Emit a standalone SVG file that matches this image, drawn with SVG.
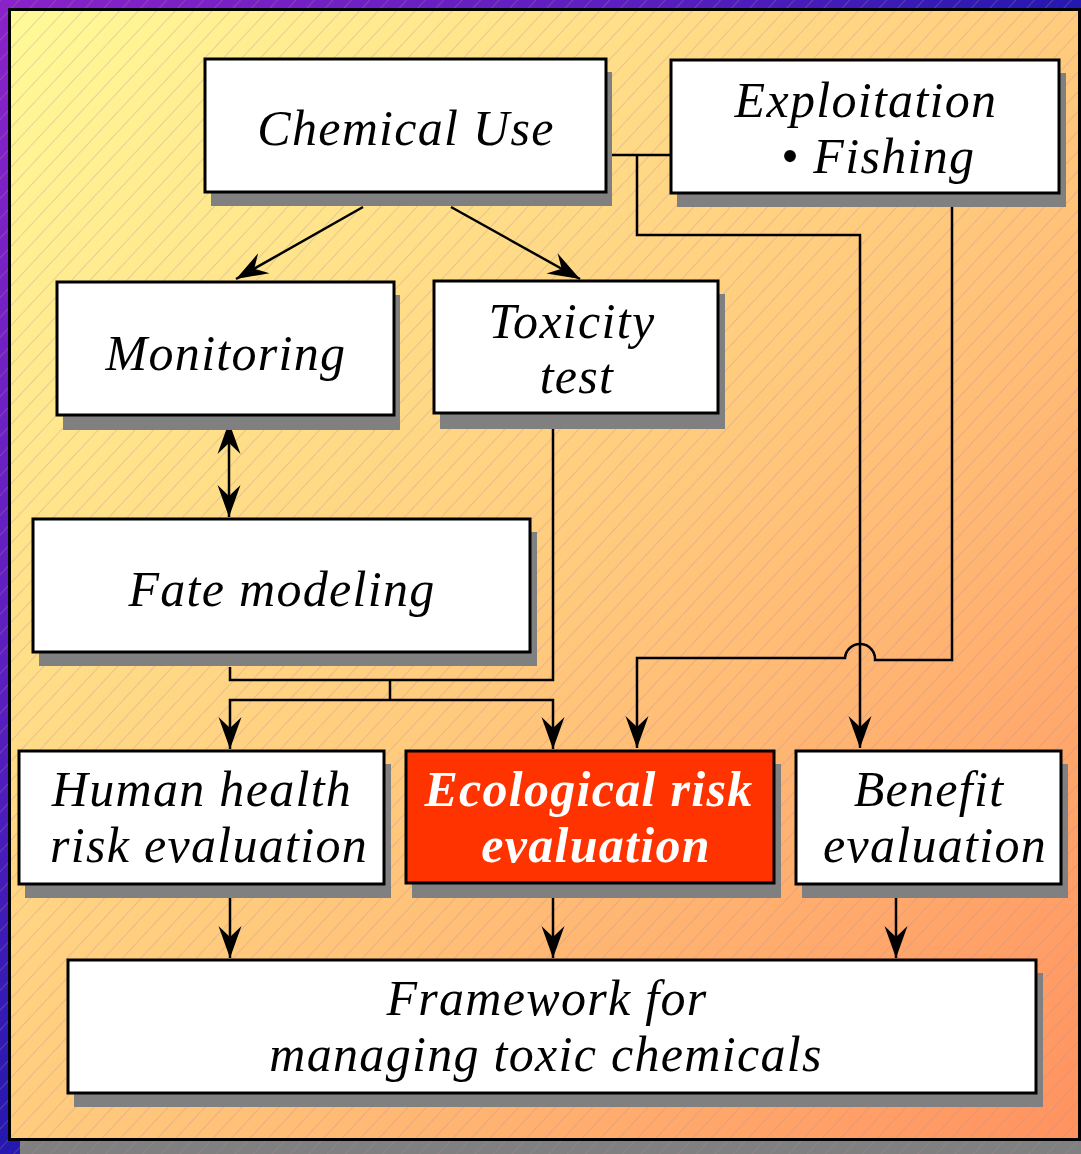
<svg xmlns="http://www.w3.org/2000/svg" width="1081" height="1154" viewBox="0 0 1081 1154">
  <defs>
    <linearGradient id="outerBg" x1="0" y1="0" x2="1" y2="1">
      <stop offset="0" stop-color="#8a22c8"/>
      <stop offset="0.3" stop-color="#5a1ec0"/>
      <stop offset="0.5" stop-color="#2418b0"/>
      <stop offset="1" stop-color="#1414a4"/>
    </linearGradient>
    <linearGradient id="panelBg" x1="0" y1="0" x2="1" y2="1">
      <stop offset="0" stop-color="#fffa98"/>
      <stop offset="0.5" stop-color="#ffcc7e"/>
      <stop offset="1" stop-color="#ff9260"/>
    </linearGradient>
    <pattern id="hatch" patternUnits="userSpaceOnUse" width="13.5" height="13.5" patternTransform="rotate(-47)">
      <line x1="0" y1="0.5" x2="13.5" y2="0.5" stroke="#b08ca0" stroke-opacity="0.32" stroke-width="1"/>
    </pattern>
    <marker id="arrow" viewBox="-34 -13 35 26" refX="0" refY="0" markerWidth="35" markerHeight="26" markerUnits="userSpaceOnUse" orient="auto-start-reverse">
      <path d="M0,0 L-32,-11.5 L-21,0 L-32,11.5 Z" fill="#000"/>
    </marker>
  </defs>
  <style>
    .shadow { fill: #808080; }
    .box { fill: #ffffff; stroke: #000; stroke-width: 3; }
    .hot { fill: #ff3300; stroke: #000; stroke-width: 3; }
    .label { font-family: "Liberation Serif", "Times New Roman", serif; font-style: italic; font-size: 50px; letter-spacing: 1.3px; fill: #000; text-anchor: middle; }
    .hotlabel { fill: #ffffff; font-weight: bold; }
    .wire { fill: none; stroke: #000; stroke-width: 2.5; }
    .arrowed { marker-end: url(#arrow); }
  </style>

  <!-- backdrop and framed panel -->
  <rect x="0" y="0" width="1081" height="1154" fill="url(#outerBg)"/>
  <rect x="20" y="20" width="1070" height="1140" fill="#808080"/>
  <rect x="9.5" y="9.5" width="1070" height="1130" fill="url(#panelBg)"/>
  <rect x="0" y="0" width="1081" height="1154" fill="url(#hatch)"/>
  <rect x="9.5" y="9.5" width="1070" height="1130" fill="none" stroke="#000" stroke-width="3"/>

  <!-- connectors -->
  <g id="connectors">
    <path class="wire arrowed" d="M363,207 L236,279"/>
    <path class="wire arrowed" d="M451,207 L580,279"/>
    <path class="wire" d="M229,422 L229,517" marker-start="url(#arrow)" marker-end="url(#arrow)"/>
    <path class="wire" d="M612,155 H671"/>
    <path class="wire arrowed" d="M637,155 V235 H860 V748"/>
    <path class="wire arrowed" d="M952,207 V660 H875 A15,15 0 0 0 845,658 H637 V748"/>
    <path class="wire" d="M230,667 V680 H553 V428"/>
    <path class="wire" d="M390,680 V700"/>
    <path class="wire arrowed" d="M390,700 H230 V749"/>
    <path class="wire arrowed" d="M390,700 H553 V749"/>
    <path class="wire arrowed" d="M230,898 V958"/>
    <path class="wire arrowed" d="M553,898 V958"/>
    <path class="wire arrowed" d="M896,898 V958"/>
  </g>

  <!-- nodes -->
  <g id="chemical-use">
    <rect class="shadow" x="211" y="72" width="401" height="134"/>
    <rect class="box" x="205" y="59" width="401" height="133"/>
    <text class="label" x="406" y="145">Chemical Use</text>
  </g>
  <g id="exploitation">
    <rect class="shadow" x="677" y="73" width="389" height="134"/>
    <rect class="box" x="671" y="60" width="388" height="133"/>
    <text class="label" x="866" y="117">Exploitation</text>
    <text class="label" x="878" y="173">• Fishing</text>
  </g>
  <g id="monitoring">
    <rect class="shadow" x="63" y="295" width="337" height="135"/>
    <rect class="box" x="57" y="282" width="337" height="133"/>
    <text class="label" x="226" y="370">Monitoring</text>
  </g>
  <g id="toxicity-test">
    <rect class="shadow" x="440" y="294" width="285" height="135"/>
    <rect class="box" x="434" y="281" width="284" height="132"/>
    <text class="label" x="572" y="338">Toxicity</text>
    <text class="label" x="577" y="393">test</text>
  </g>
  <g id="fate-modeling">
    <rect class="shadow" x="39" y="532" width="498" height="134"/>
    <rect class="box" x="33" y="519" width="497" height="133"/>
    <text class="label" x="282" y="606">Fate modeling</text>
  </g>
  <g id="human-health">
    <rect class="shadow" x="25" y="764" width="366" height="134"/>
    <rect class="box" x="19" y="751" width="365" height="133"/>
    <text class="label" x="202" y="806">Human health</text>
    <text class="label" x="209" y="862">risk evaluation</text>
  </g>
  <g id="ecological-risk">
    <rect class="shadow" x="412" y="764" width="369" height="134"/>
    <rect class="hot" x="406" y="751" width="368" height="132"/>
    <text class="label hotlabel" x="589" y="806">Ecological risk</text>
    <text class="label hotlabel" x="596" y="862">evaluation</text>
  </g>
  <g id="benefit">
    <rect class="shadow" x="802" y="764" width="266" height="134"/>
    <rect class="box" x="796" y="751" width="265" height="133"/>
    <text class="label" x="929" y="806">Benefit</text>
    <text class="label" x="935" y="862">evaluation</text>
  </g>
  <g id="framework">
    <rect class="shadow" x="74" y="973" width="969" height="134"/>
    <rect class="box" x="68" y="960" width="968" height="133"/>
    <text class="label" x="547" y="1015">Framework for</text>
    <text class="label" x="546" y="1071">managing toxic chemicals</text>
  </g>
</svg>
